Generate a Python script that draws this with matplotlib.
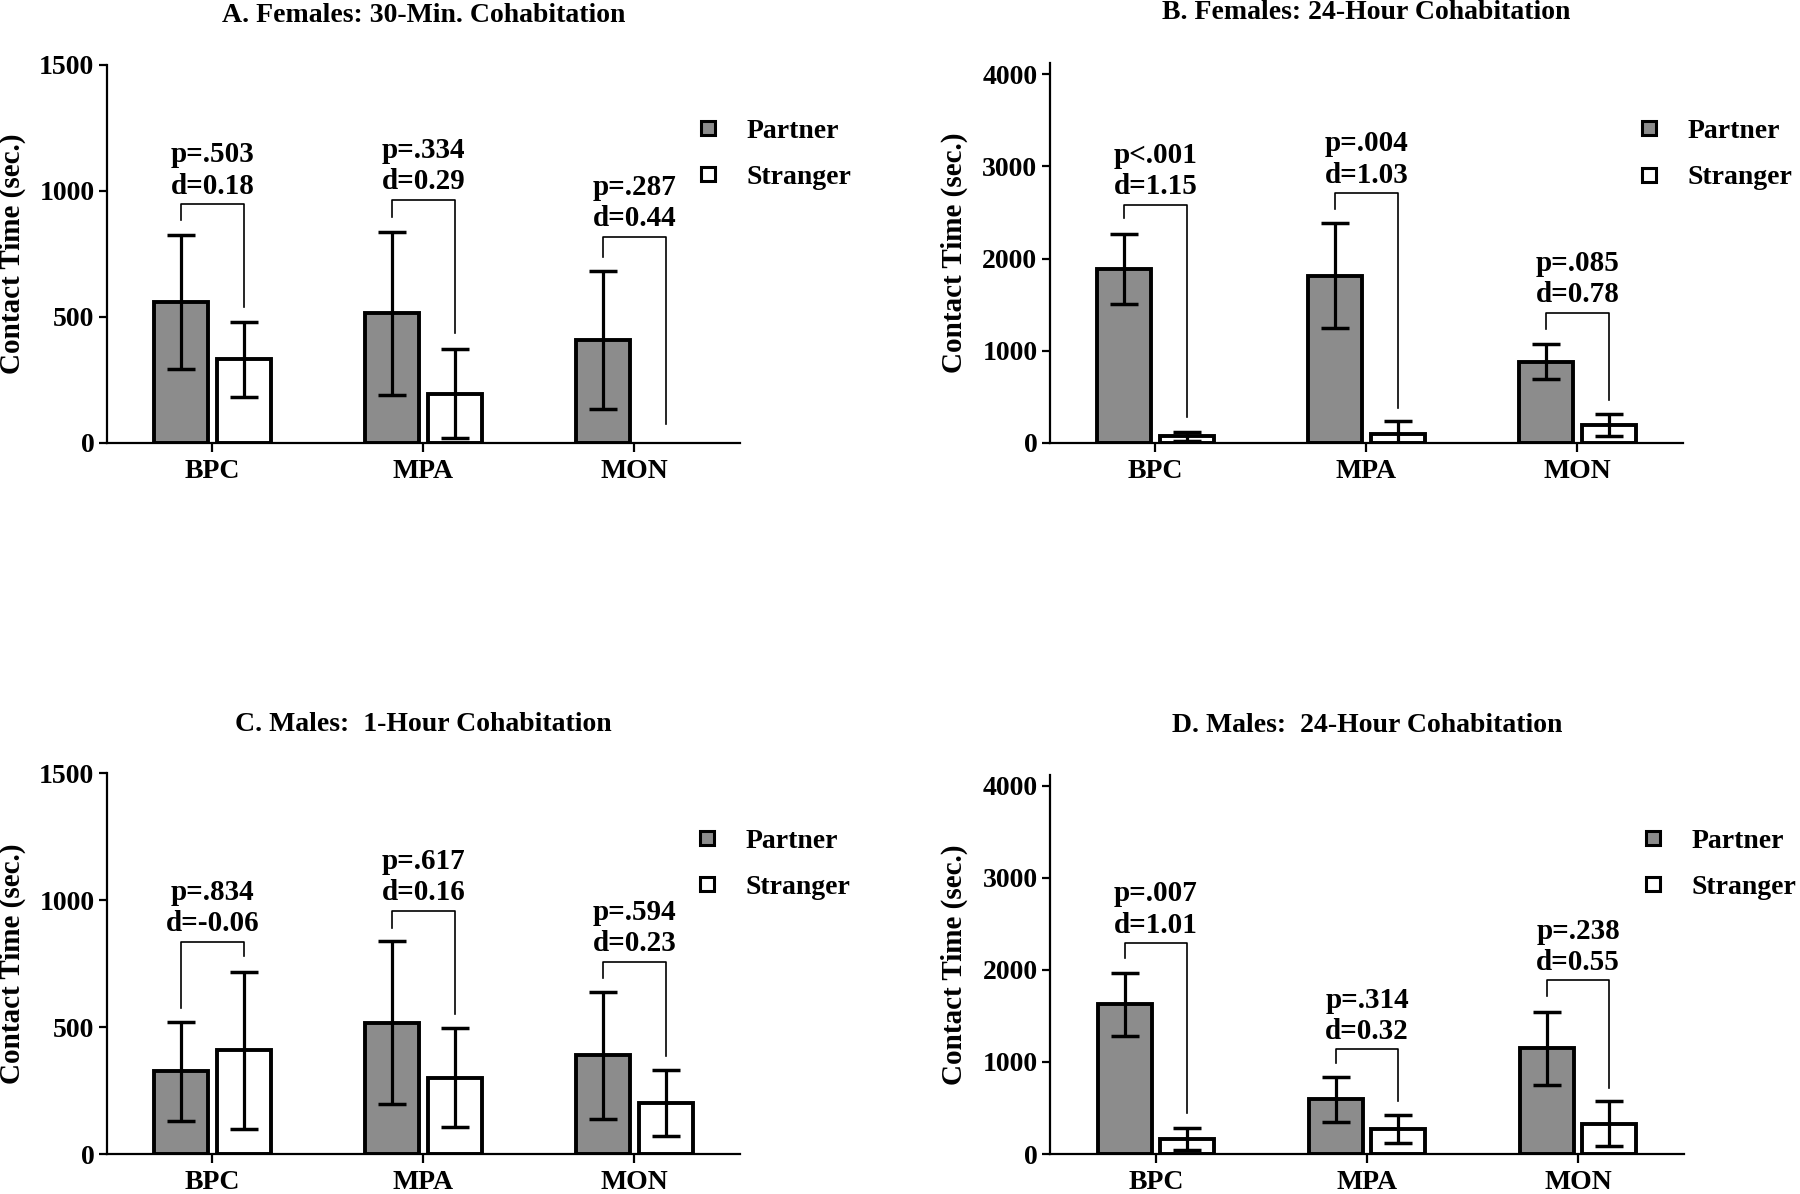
import matplotlib
matplotlib.use('Agg')
import matplotlib.pyplot as plt
from matplotlib.lines import Line2D
import numpy as np

plt.rcParams['font.family'] = ['Liberation Serif', 'DejaVu Serif']
plt.rcParams['font.weight'] = 'bold'

categories = ['BPC', 'MPA', 'MON']
series_labels = ['Partner', 'Stranger']
titles = ['A. Females: 30-Min. Cohabitation', 'B. Females: 24-Hour Cohabitation',
          'C. Males:  1-Hour Cohabitation', 'D. Males:  24-Hour Cohabitation']

# Panel A
a_partner = [560, 514, 408]
a_partner_err = [265, 325, 275]
a_stranger = [332, 196, 0]
a_stranger_err = [148, 178, 0]
a_bracket_top = [948, 966, 818]
a_left_end = [884, 898, 739]
a_right_end = [540, 437, 74]
a_p = ['p=.503', 'p=.334', 'p=.287']
a_d = ['d=0.18', 'd=0.29', 'd=0.44']

# Panel B
b_partner = [1886, 1814, 881]
b_partner_err = [380, 570, 190]
b_stranger = [72, 92, 196]
b_stranger_err = [50, 147, 115]
b_bracket_top = [2586, 2713, 1414]
b_left_end = [2441, 2539, 1233]
b_right_end = [283, 384, 464]
b_p = ['p<.001', 'p=.004', 'p=.085']
b_d = ['d=1.15', 'd=1.03', 'd=0.78']

# Panel C
c_partner = [325, 517, 388]
c_partner_err = [195, 320, 250]
c_stranger = [408, 301, 200]
c_stranger_err = [310, 195, 130]
c_bracket_top = [836, 958, 757]
c_left_end = [574, 892, 695]
c_right_end = [778, 553, 385]
c_p = ['p=.834', 'p=.617', 'p=.594']
c_d = ['d=-0.06', 'd=0.16', 'd=0.23']

# Panel D
d_partner = [1625, 593, 1147]
d_partner_err = [345, 240, 400]
d_stranger = [166, 271, 329]
d_stranger_err = [120, 155, 245]
d_bracket_top = [2294, 1136, 1889]
d_left_end = [2135, 984, 1719]
d_right_end = [441, 579, 720]
d_p = ['p=.007', 'p=.314', 'p=.238']
d_d = ['d=1.01', 'd=0.32', 'd=0.55']

y_ticks_short = [0, 500, 1000, 1500]
y_ticks_long = [0, 1000, 2000, 3000, 4000]

panels = [
    (a_partner, a_partner_err, a_stranger, a_stranger_err, a_bracket_top, a_left_end, a_right_end, a_p, a_d, y_ticks_short, 1500),
    (b_partner, b_partner_err, b_stranger, b_stranger_err, b_bracket_top, b_left_end, b_right_end, b_p, b_d, y_ticks_long, 4120),
    (c_partner, c_partner_err, c_stranger, c_stranger_err, c_bracket_top, c_left_end, c_right_end, c_p, c_d, y_ticks_short, 1500),
    (d_partner, d_partner_err, d_stranger, d_stranger_err, d_bracket_top, d_left_end, d_right_end, d_p, d_d, y_ticks_long, 4120),
]

W, H = 1800, 1194
fig = plt.figure(figsize=(W / 100, H / 100), dpi=100)

rects = [
    [0.0594, 0.629, 0.3517, 0.3166],
    [0.5833, 0.629, 0.3517, 0.3180],
    [0.0594, 0.0335, 0.3517, 0.3190],
    [0.5836, 0.0335, 0.3517, 0.3175],
]
legend_anchor_px = [(694, 154), (1635, 154.5), (693, 864), (1639, 864)]
title_pads = [31, 32, 30, 31]
ylabel_x = [-0.128, -0.130, -0.128, -0.130]

partner_color = '#8c8c8c'
stranger_color = '#ffffff'
bw = 0.255
off = 0.148

for k, (pm, pe, sm, se, btop, lend, rend, ptxt, dtxt, yt, ymax) in enumerate(panels):
    ax = fig.add_axes(rects[k])
    x = np.arange(len(categories))
    pm = np.array(pm, float)
    sm = np.array(sm, float)
    pe = np.array(pe, float)
    se = np.array(se, float)
    sm_plot = np.where(sm > 0, sm, np.nan)
    ax.bar(x - off, pm, width=bw, color=partner_color, edgecolor='black', linewidth=2.8, zorder=2)
    ax.bar(x + off, sm_plot, width=bw, color=stranger_color, edgecolor='black', linewidth=2.8, zorder=2)
    ekw = dict(fmt='none', ecolor='black', elinewidth=2.3, capsize=10, capthick=2.5, zorder=3)
    ax.errorbar(x - off, pm, yerr=pe, **ekw)
    mask = sm > 0
    ax.errorbar((x + off)[mask], sm[mask], yerr=se[mask], **ekw)
    for i in range(len(categories)):
        ax.plot([i - off, i - off, i + off, i + off], [lend[i], btop[i], btop[i], rend[i]],
                color='black', lw=1.2, zorder=4)
        ax.annotate(dtxt[i], xy=(i, btop[i]), xytext=(0, 7.5), textcoords='offset points',
                    ha='center', va='baseline', fontsize=21, fontweight='bold')
        ax.annotate(ptxt[i], xy=(i, btop[i]), xytext=(0, 30), textcoords='offset points',
                    ha='center', va='baseline', fontsize=21, fontweight='bold')
    ax.set_xlim(-0.5, 2.5)
    ax.set_ylim(0, ymax)
    ax.set_yticks(yt)
    ax.set_xticks(x)
    ax.set_xticklabels(categories)
    for s in ['top', 'right']:
        ax.spines[s].set_visible(False)
    for s in ['left', 'bottom']:
        ax.spines[s].set_linewidth(1.6)
    ax.tick_params(axis='y', direction='out', length=6, width=1.6, labelsize=20, pad=3)
    ax.tick_params(axis='x', direction='out', length=6.5, width=1.6, labelsize=20, pad=5)
    for lab in ax.get_xticklabels() + ax.get_yticklabels():
        lab.set_fontweight('bold')
    ax.set_ylabel('Contact Time (sec.)', fontsize=21, fontweight='bold')
    ax.yaxis.set_label_coords(ylabel_x[k], 0.5)
    ax.set_title(titles[k], fontsize=20, fontweight='bold', pad=title_pads[k])
    handles = [Line2D([], [], marker='s', ls='none', markersize=10, markerfacecolor=c,
                      markeredgecolor='black', markeredgewidth=2.2)
               for c in (partner_color, stranger_color)]
    lx, ly = legend_anchor_px[k]
    ax.legend(handles, series_labels, loc='center left', bbox_to_anchor=(lx / W, 1 - ly / H),
              bbox_transform=fig.transFigure, frameon=False, handlelength=1.0,
              handletextpad=0.9, labelspacing=0.75, borderpad=0, borderaxespad=0,
              prop={'weight': 'bold', 'size': 20})

fig.savefig('out.png', dpi=100)
